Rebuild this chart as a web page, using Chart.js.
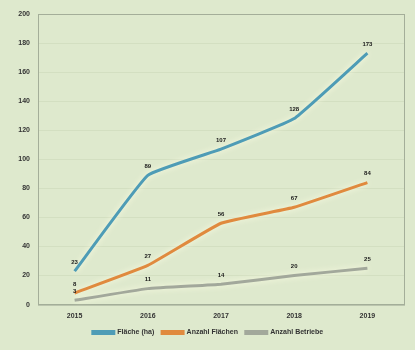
<!DOCTYPE html>
<html>
<head>
<meta charset="utf-8">
<script src="https://cdn.jsdelivr.net/npm/chart.js@4/dist/chart.umd.min.js"></script>
<style>
  html, body { margin: 0; padding: 0; background: #dee9cd; }
  #wrap { width: 415px; height: 350px; position: relative; }
</style>
</head>
<body>
<div id="wrap"><canvas id="c"></canvas></div>
<script>
// Jahre und Werte
const years = ['2015', '2016', '2017', '2018', '2019'];
const flaecheHa = [23, 89, 107, 128, 173];
const anzahlFlaechen = [8, 27, 56, 67, 84];
const anzahlBetriebe = [3, 11, 14, 20, 25];
const seriesNames = ['Fläche (ha)', 'Anzahl Flächen', 'Anzahl Betriebe'];
const yMin = 0, yMax = 200, yStep = 20;

const colors = ['#4e9cb6', '#e08a3e', '#a2a89b'];
const FONT = '"Liberation Sans", Arial, sans-serif';

// Rahmen um die Zeichenfläche
const frame = {
  id: 'frame',
  beforeDatasetsDraw(chart) {
    const { ctx, chartArea: a } = chart;
    ctx.save();
    ctx.strokeStyle = '#a4ae99';
    ctx.lineWidth = 1;
    ctx.strokeRect(a.left + 0.5, a.top + 0.5, a.right - a.left, a.bottom - a.top);
    ctx.restore();
  }
};

// Weicher Schein unter den Linien
const glow = {
  id: 'glow',
  beforeDatasetDraw(chart) {
    const ctx = chart.ctx;
    ctx.save();
    ctx.shadowColor = 'rgba(255,255,230,0.9)';
    ctx.shadowBlur = 6;
  },
  afterDatasetDraw(chart) {
    chart.ctx.restore();
  }
};

// Wertebeschriftung über jedem Punkt
const valueLabels = {
  id: 'valueLabels',
  afterDatasetsDraw(chart) {
    const ctx = chart.ctx;
    ctx.save();
    ctx.font = 'bold 6px ' + FONT;
    ctx.fillStyle = '#1a1a1a';
    ctx.textAlign = 'center';
    ctx.textBaseline = 'bottom';
    chart.data.datasets.forEach((ds, i) => {
      const meta = chart.getDatasetMeta(i);
      meta.data.forEach((pt, j) => {
        ctx.fillText(String(ds.data[j]), pt.x, pt.y - 6);
      });
    });
    ctx.restore();
  }
};

const values = [flaecheHa, anzahlFlaechen, anzahlBetriebe];

new Chart(document.getElementById('c'), {
  type: 'line',
  data: {
    labels: years,
    datasets: seriesNames.map((name, i) => ({
      label: name,
      data: values[i],
      borderColor: colors[i],
      backgroundColor: colors[i],
      borderWidth: 3,
      pointRadius: 0,
      tension: 0.1,
      fill: false
    }))
  },
  options: {
    responsive: true,
    maintainAspectRatio: false,
    animation: false,
    devicePixelRatio: 1,
    layout: { padding: { top: 14, right: 11, left: 12, bottom: 4 } },
    plugins: {
      tooltip: { enabled: false },
      legend: {
        position: 'bottom',
        labels: {
          boxWidth: 21,
          boxHeight: 2,
          padding: 2,
          color: '#333',
          font: { family: FONT, size: 7, weight: 'bold' },
          // etwas Abstand zwischen den Einträgen
          generateLabels(chart) {
            const items = Chart.defaults.plugins.legend.labels.generateLabels(chart);
            items.forEach((it, i) => {
              if (i < items.length - 1) it.text = it.text + '   ';
            });
            return items;
          }
        }
      }
    },
    scales: {
      x: {
        offset: true,
        grid: { display: false, drawTicks: false },
        border: { display: true, color: '#a4ae99', width: 1 },
        ticks: { color: '#333', padding: 7, font: { family: FONT, size: 7, weight: 'bold' } }
      },
      y: {
        min: yMin,
        max: yMax,
        afterFit(scale) { scale.width = 26; },
        grid: { color: '#d3dfc1', drawTicks: false },
        border: { display: true, color: '#9aa58e', width: 1 },
        ticks: { stepSize: yStep, color: '#333', padding: 8, font: { family: FONT, size: 7, weight: 'bold' } }
      }
    }
  },
  plugins: [frame, glow, valueLabels]
});
</script>
</body>
</html>
